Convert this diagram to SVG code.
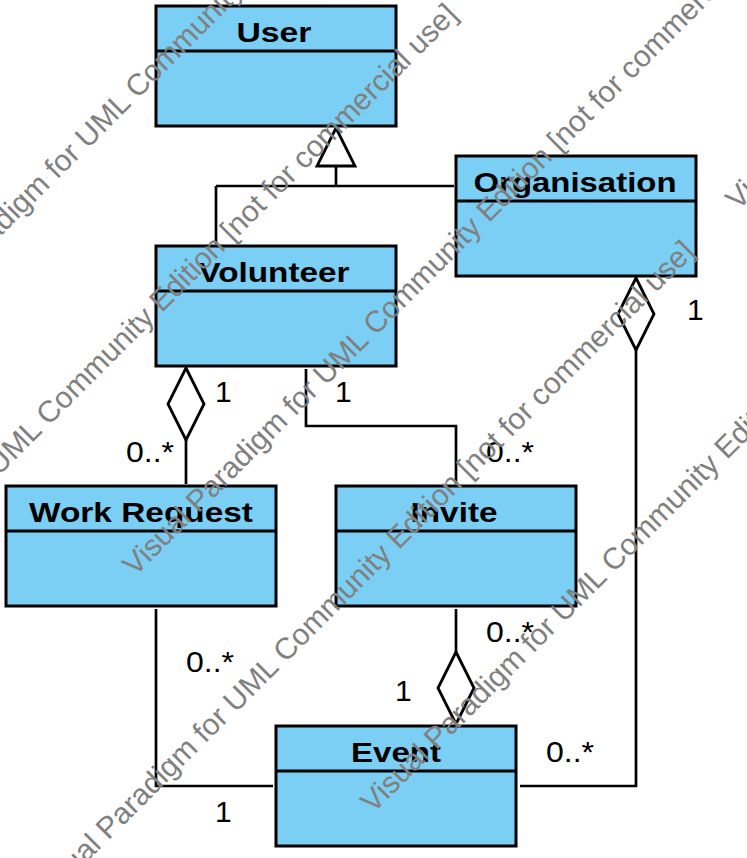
<svg xmlns="http://www.w3.org/2000/svg" width="747" height="858" viewBox="0 0 747 858">
<style>
.box{fill:#7BCEF4;stroke:#000;stroke-width:3}
.div{stroke:#000;stroke-width:3}
.name{font-family:"Liberation Sans",Arial,sans-serif;font-weight:bold;font-size:28.5px;fill:#000;text-anchor:middle}
.ln{fill:none;stroke:#000;stroke-width:2.7}
.dia{fill:#fff;stroke:#000;stroke-width:2.8}
.mul{font-family:"Liberation Sans",Arial,sans-serif;font-size:30px;fill:#000}
.wm{font-family:"Liberation Sans",Arial,sans-serif;font-size:30px;fill:#808080}
</style>
<rect width="747" height="858" fill="#fff"/>
<g id="connectors">
<path class="ln" d="M336,166 V186 M216,186 H454 M216,186 V244"/>
<polygon class="dia" points="336,128 355,166 317,166"/>
<polygon class="dia" points="186,368 204,404 186,440 168,404"/>
<path class="ln" d="M186,440 V484"/>
<path class="ln" d="M306,369 V426 H456 V484"/>
<polygon class="dia" points="636,278 654,314 636,350 618,314"/>
<path class="ln" d="M636,350 V786 H520"/>
<path class="ln" d="M456,609 V652"/>
<polygon class="dia" points="456,652 474,688 456,724 438,688"/>
<path class="ln" d="M156,609 V786 H273"/>
<text class="mul" x="215" y="401.5">1</text>
<text class="mul" x="126" y="461.5" textLength="48" lengthAdjust="spacingAndGlyphs">0..*</text>
<text class="mul" x="335" y="401.5">1</text>
<text class="mul" x="486" y="462" textLength="48" lengthAdjust="spacingAndGlyphs">0..*</text>
<text class="mul" x="687" y="320">1</text>
<text class="mul" x="546" y="762" textLength="48" lengthAdjust="spacingAndGlyphs">0..*</text>
<text class="mul" x="186" y="672" textLength="48" lengthAdjust="spacingAndGlyphs">0..*</text>
<text class="mul" x="215" y="822">1</text>
<text class="mul" x="486" y="642" textLength="48" lengthAdjust="spacingAndGlyphs">0..*</text>
<text class="mul" x="395" y="701">1</text>
</g>
<g id="User">
<rect class="box" x="156" y="6" width="240" height="120"/>
<line class="div" x1="156" y1="51" x2="396" y2="51"/>
<text class="name" x="274" y="41.7" textLength="75" lengthAdjust="spacingAndGlyphs">User</text>
</g>
<g id="Organisation">
<rect class="box" x="456" y="156" width="240" height="120"/>
<line class="div" x1="456" y1="201" x2="696" y2="201"/>
<text class="name" x="575" y="191.7" textLength="203" lengthAdjust="spacingAndGlyphs">Organisation</text>
</g>
<g id="Volunteer">
<rect class="box" x="156" y="246" width="240" height="120"/>
<line class="div" x1="156" y1="291" x2="396" y2="291"/>
<text class="name" x="274" y="281.7" textLength="151" lengthAdjust="spacingAndGlyphs">Volunteer</text>
</g>
<g id="WorkRequest">
<rect class="box" x="6" y="486" width="270" height="120"/>
<line class="div" x1="6" y1="531" x2="276" y2="531"/>
<text class="name" x="141" y="521.7" textLength="224" lengthAdjust="spacingAndGlyphs">Work Request</text>
</g>
<g id="Invite">
<rect class="box" x="336" y="486" width="240" height="120"/>
<line class="div" x1="336" y1="531" x2="576" y2="531"/>
<text class="name" x="454" y="521.7" textLength="87" lengthAdjust="spacingAndGlyphs">Invite</text>
</g>
<g id="Event">
<rect class="box" x="276" y="726" width="240" height="120"/>
<line class="div" x1="276" y1="771" x2="516" y2="771"/>
<text class="name" x="396" y="761.7" textLength="90" lengthAdjust="spacingAndGlyphs">Event</text>
</g>
<g id="watermark">
<text class="wm" transform="translate(-103,340) rotate(-45)">Visual Paradigm for UML Community Edition [not for commercial use]</text>
<text class="wm" transform="translate(-192,667) rotate(-45)">Visual Paradigm for UML Community Edition [not for commercial use]</text>
<text class="wm" transform="translate(135,577) rotate(-45)">Visual Paradigm for UML Community Edition [not for commercial use]</text>
<text class="wm" transform="translate(45,904) rotate(-45)">Visual Paradigm for UML Community Edition [not for commercial use]</text>
<text class="wm" transform="translate(738,211) rotate(-45)">Visual Paradigm for UML Community Edition [not for commercial use]</text>
<text class="wm" transform="translate(373,814) rotate(-45)">Visual Paradigm for UML Community Edition [not for commercial use]</text>
</g>
</svg>
